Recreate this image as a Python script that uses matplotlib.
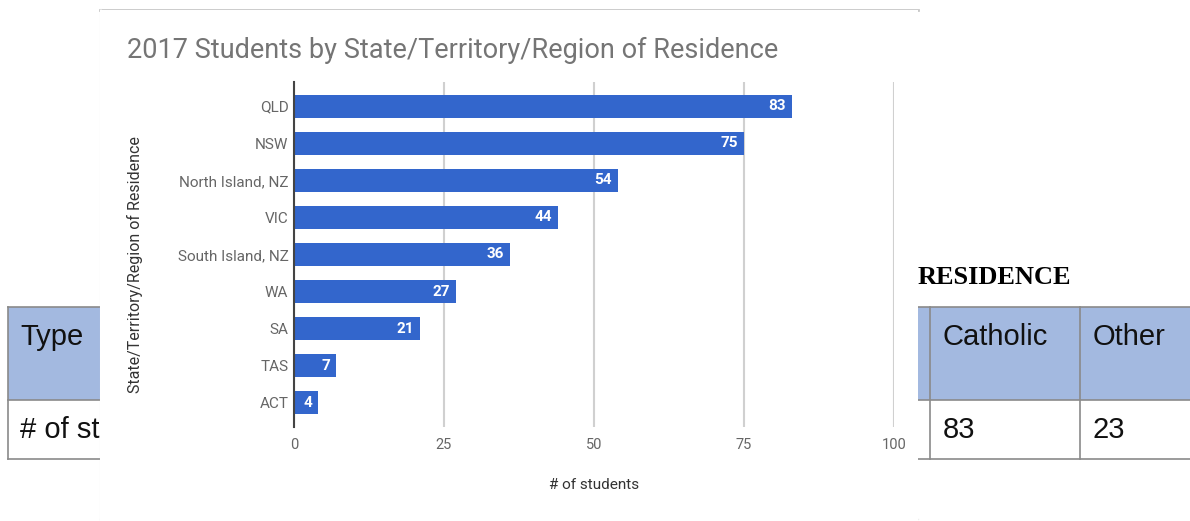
import matplotlib
matplotlib.use("Agg")
import matplotlib.pyplot as plt
from matplotlib.patches import Rectangle
from matplotlib.lines import Line2D

# chart data
regions = ["QLD", "NSW", "North Island, NZ", "VIC", "South Island, NZ",
           "WA", "SA", "TAS", "ACT"]
students = [83, 75, 54, 44, 36, 27, 21, 7, 4]
x_ticks = [0, 25, 50, 75, 100]

# table behind the chart
table_header = ["Type", "Catholic", "Other"]
table_row = ["# of students", "83", "23"]

W, H = 1190, 521
fig = plt.figure(figsize=(W / 100, H / 100), dpi=100)


def fx(px):
    return px / W


def fy(py):
    return 1 - py / H


def rect(x0, y0, x1, y1, **kw):
    fig.patches.append(Rectangle((fx(x0), fy(y1)), fx(x1) - fx(x0), fy(y0) - fy(y1),
                                 transform=fig.transFigure, **kw))


def line(xs, ys, **kw):
    fig.lines.append(Line2D([fx(x) for x in xs], [fy(y) for y in ys],
                            transform=fig.transFigure, **kw))


# background table
rect(8, 307, W, 400, facecolor="#a3b9e0", edgecolor="none", zorder=-3)
for y in (307, 400, 459):
    line([8, W], [y, y], color="#8a8a8a", lw=1.2, zorder=-2)
line([8, 8], [307, 459], color="#8a8a8a", lw=1.2, zorder=-2)
for x in (930, 1080):
    line([x, x], [307, 459], color="#8a8a8a", lw=1.2, zorder=-2)

col_x = [20, 943, 1093]
for x, head, val in zip(col_x, table_header, table_row):
    fig.text(fx(x), fy(337), head, fontsize=21, family="Liberation Sans",
             color="#111111", va="center", ha="left", zorder=-2)
    fig.text(fx(x), fy(430), val, fontsize=21, family="Liberation Sans",
             color="#111111", va="center", ha="left", zorder=-2)
fig.text(fx(918), fy(277), "RESIDENCE", fontsize=19, family="Liberation Serif",
         weight="bold", color="#000000", va="center", ha="left", zorder=-2)

# chart screenshot panel
rect(100, 10, 918, H, facecolor="white", edgecolor="none", zorder=-1)
line([100, 918], [10, 10], color="#c8c8c8", lw=2, zorder=-1)
line([101, 101], [10, H], color="#e0e0e0", lw=1.5, zorder=-1)
line([100, 918], [519, 519], color="#eeeeee", lw=1, zorder=-1)

fig.text(fx(127), fy(50), "2017 Students by State/Territory/Region of Residence",
         fontsize=19.5, family="Roboto", color="#757575", va="center", ha="left")

# bar chart
ax = fig.add_axes([fx(294), fy(427), fx(894) - fx(294), fy(82) - fy(427)])
ypos = list(range(len(regions)))
ax.barh(ypos, students, height=0.62, color="#3366cc", zorder=3)
for y, v in zip(ypos, students):
    ax.text(v - 1.0, y, str(v), color="white", fontsize=11, family="Roboto",
            weight="bold", ha="right", va="center", zorder=4)

ax.set_xlim(0, 100)
ax.set_ylim(len(regions) - 0.35, -0.65)
ax.set_yticks(ypos)
ax.set_yticklabels(regions, family="Roboto", fontsize=11, color="#666666")
ax.set_xticks(x_ticks)
ax.set_xticklabels([str(t) for t in x_ticks], family="Roboto", fontsize=10.5, color="#666666")
ax.tick_params(axis="both", length=0)
ax.tick_params(axis="y", pad=4)
ax.tick_params(axis="x", pad=8)
ax.grid(axis="x", color="#d0d0d0", lw=1.5, zorder=0)
for s in ("top", "right", "bottom"):
    ax.spines[s].set_visible(False)
ax.spines["left"].set_color("#444444")
ax.spines["left"].set_linewidth(1.5)
ax.spines["left"].set_zorder(5)

ax.set_xlabel("# of students", family="Roboto", fontsize=11, color="#333333", va="center")
ax.xaxis.set_label_coords(0.5, -(485 - 427) / 345)
ax.set_ylabel("State/Territory/Region of Residence", family="Roboto", fontsize=11.5,
              color="#333333", va="center")
ax.yaxis.set_label_coords((135 - 294) / 600, (427 - 265) / 345)

fig.savefig("out.png", dpi=100)
